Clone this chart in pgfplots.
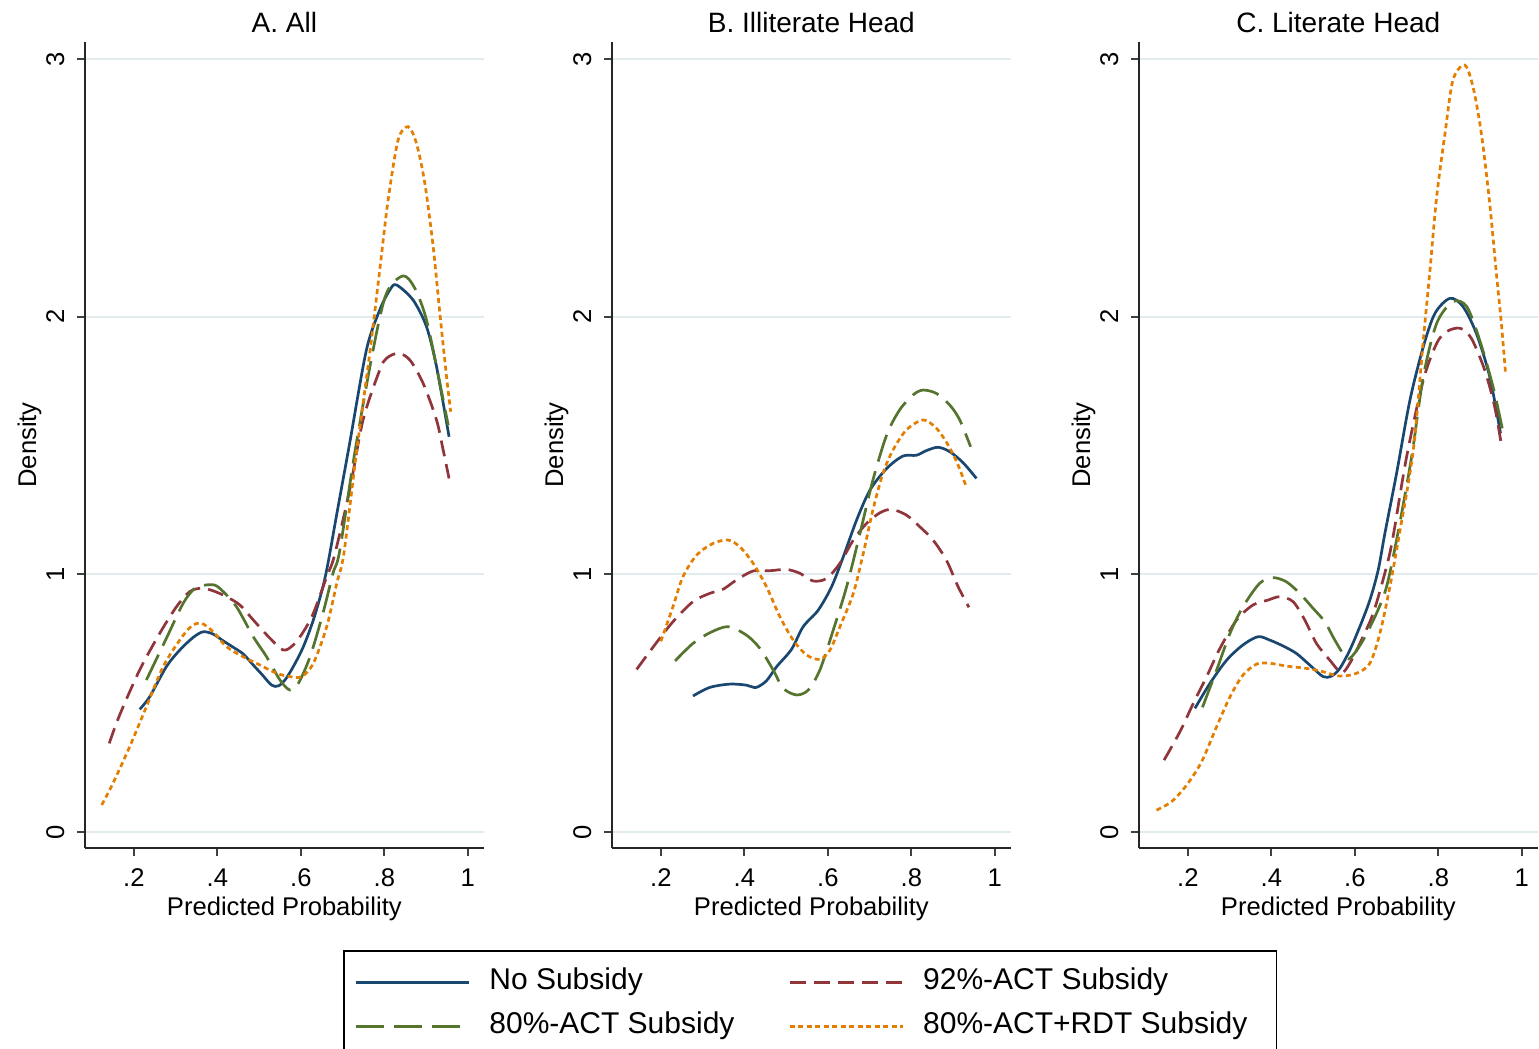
\documentclass[border=0pt]{standalone}
\usepackage{fontspec}
\setmainfont{Liberation Sans}
\usepackage{pgfplots}
\pgfplotsset{compat=1.18}

\definecolor{snavy}{RGB}{26,71,111}
\definecolor{smaroon}{RGB}{144,53,59}
\definecolor{sgreen}{RGB}{85,117,47}
\definecolor{sorange}{RGB}{227,126,0}
\definecolor{sgrid}{RGB}{226,236,239}

\pgfplotsset{
  panel/.style={
    scale only axis, width=199.35pt, height=403.05pt,
    xmin=0.083, xmax=1.038, ymin=-0.062, ymax=3.066,
    axis lines=left, axis line style={-, black!85, line width=0.9pt},
    tick align=outside, major tick length=4pt,
    tick style={black!75, line width=0.9pt},
    xtick={0.2,0.4,0.6,0.8,1}, xticklabels={.2,.4,.6,.8,1},
    ytick={0,1,2,3}, yticklabels={0,1,2,3},
    ymajorgrids, grid style={sgrid, line width=0.9pt},
    tick label style={font=\fontsize{12.8}{15}\selectfont},
    xticklabel style={anchor=base}, xticklabel shift=15pt,
    yticklabel style={rotate=90, anchor=base}, yticklabel shift=6.5pt,
    label style={font=\fontsize{12.8}{15}\selectfont},
    xlabel={Predicted Probability},
    xlabel style={at={(axis description cs:0.5,0)}, anchor=base, yshift=-33.5pt},
    ylabel={Density},
    ylabel style={at={(axis description cs:-0.1228,0.5)}, anchor=base},
    title style={font=\fontsize{14}{17}\selectfont, at={(axis description cs:0.5,1)}, anchor=base, yshift=-1.5pt},
  },
  noS/.style={snavy, solid, line width=1.35pt, smooth},
  s92/.style={smaroon, line width=1.35pt, dash pattern=on 8pt off 4pt, smooth},
  s80/.style={sgreen, line width=1.35pt, dash pattern=on 14pt off 5pt, smooth},
  sRDT/.style={sorange, line width=1.35pt, dash pattern=on 2.5pt off 1.75pt, smooth},
}

\begin{document}
\begin{tikzpicture}
% A. All
\begin{axis}[panel, at={(42.5pt,-424pt)}, anchor=south west, title={A. All},
  legend columns=2, legend cell align=left,
  legend image code/.code={\draw[#1] (0pt,0pt) -- (56.5pt,0pt);},
  legend style={at={(axis description cs:0.6466,-0.1266)}, anchor=north west,
    draw=black, line width=0.9pt, font=\fontsize{15}{18}\selectfont,
    inner sep=5.5pt, row sep=1.5pt,
    /tikz/every odd column/.append style={column sep=6.5pt},
    /tikz/every even column/.append style={column sep=24pt},
    nodes={inner sep=3pt, text height=11pt, text depth=3.5pt}}]
\addplot[noS] coordinates {
(0.214,0.476) (0.238,0.525) (0.278,0.642) (0.310,0.706) (0.342,0.755) (0.366,0.777)
(0.390,0.768) (0.414,0.742) (0.438,0.717) (0.462,0.691) (0.486,0.648) (0.506,0.613)
(0.530,0.570) (0.546,0.567) (0.562,0.590) (0.582,0.642) (0.606,0.719) (0.630,0.823)
(0.653,0.952) (0.667,1.060) (0.685,1.224) (0.717,1.509) (0.757,1.870) (0.789,2.026)
(0.813,2.103) (0.829,2.123) (0.869,2.064) (0.901,1.961) (0.925,1.806) (0.955,1.534)};
\addlegendentry{No Subsidy}
\addplot[s92] coordinates {
(0.141,0.344) (0.166,0.454) (0.214,0.629) (0.262,0.771) (0.302,0.874) (0.334,0.933)
(0.362,0.946) (0.390,0.936) (0.422,0.913) (0.454,0.881) (0.486,0.823) (0.526,0.752)
(0.558,0.706) (0.582,0.726) (0.606,0.777) (0.630,0.849) (0.662,0.991) (0.680,1.070)
(0.717,1.327) (0.749,1.599) (0.789,1.793) (0.805,1.838) (0.833,1.858) (0.861,1.832)
(0.893,1.741) (0.925,1.599) (0.941,1.482) (0.955,1.372)};
\addlegendentry{92\%-ACT Subsidy}
\addplot[s80] coordinates {
(0.230,0.590) (0.278,0.752) (0.318,0.887) (0.346,0.946) (0.370,0.958) (0.394,0.958)
(0.414,0.933) (0.446,0.874) (0.486,0.758) (0.518,0.680) (0.550,0.590) (0.574,0.551)
(0.594,0.577) (0.622,0.680) (0.653,0.849) (0.677,1.004) (0.693,1.090) (0.729,1.470)
(0.773,1.870) (0.805,2.090) (0.845,2.158) (0.873,2.110) (0.901,1.987) (0.933,1.741)
(0.953,1.579)};
\addlegendentry{80\%-ACT Subsidy}
\addplot[sRDT] coordinates {
(0.123,0.105) (0.150,0.189) (0.190,0.331) (0.230,0.486) (0.270,0.641) (0.310,0.745)
(0.338,0.799) (0.362,0.810) (0.390,0.777) (0.422,0.719) (0.462,0.680) (0.502,0.648)
(0.542,0.616) (0.574,0.603) (0.602,0.603) (0.630,0.655) (0.662,0.797) (0.686,0.965)
(0.703,1.080) (0.733,1.470) (0.765,1.857) (0.789,2.181) (0.809,2.452) (0.833,2.685)
(0.857,2.737) (0.877,2.672) (0.897,2.517) (0.917,2.271) (0.933,2.013) (0.949,1.767)
(0.959,1.631)};
\addlegendentry{80\%-ACT+RDT Subsidy\rule{6pt}{0pt}}
\end{axis}

% B. Illiterate Head
\begin{axis}[panel, at={(306pt,-424pt)}, anchor=south west, title={B. Illiterate Head}]
\addplot[noS] coordinates {
(0.277,0.528) (0.317,0.561) (0.365,0.574) (0.405,0.570) (0.428,0.561) (0.453,0.587)
(0.477,0.641) (0.513,0.709) (0.541,0.797) (0.577,0.861) (0.609,0.952) (0.637,1.068)
(0.669,1.211) (0.701,1.327) (0.741,1.411) (0.780,1.459) (0.812,1.462) (0.836,1.480)
(0.864,1.493) (0.892,1.476) (0.924,1.433) (0.956,1.372)};
\addplot[s92] coordinates {
(0.142,0.631) (0.182,0.719) (0.229,0.816) (0.277,0.894) (0.317,0.926) (0.349,0.942)
(0.381,0.978) (0.421,1.013) (0.461,1.014) (0.501,1.019) (0.533,1.004) (0.565,0.974)
(0.597,0.984) (0.629,1.043) (0.661,1.133) (0.693,1.198) (0.725,1.239) (0.753,1.252)
(0.788,1.230) (0.820,1.185) (0.852,1.133) (0.884,1.055) (0.912,0.952) (0.938,0.872)};
\addplot[s80] coordinates {
(0.234,0.664) (0.277,0.732) (0.317,0.773) (0.361,0.797) (0.405,0.764) (0.437,0.713)
(0.469,0.629) (0.493,0.558) (0.525,0.532) (0.553,0.551) (0.581,0.629) (0.613,0.784)
(0.645,0.952) (0.677,1.159) (0.708,1.366) (0.741,1.541) (0.772,1.638) (0.804,1.696)
(0.828,1.715) (0.860,1.702) (0.892,1.657) (0.916,1.599) (0.942,1.495)};
\addplot[sRDT] coordinates {
(0.200,0.740) (0.229,0.874) (0.253,0.991) (0.286,1.075) (0.325,1.120) (0.361,1.133)
(0.389,1.107) (0.421,1.043) (0.453,0.952) (0.485,0.836) (0.517,0.745) (0.549,0.687)
(0.581,0.670) (0.605,0.706) (0.629,0.797) (0.661,0.926) (0.685,1.082) (0.708,1.250)
(0.732,1.392) (0.756,1.482) (0.788,1.560) (0.828,1.599) (0.860,1.567) (0.888,1.502)
(0.912,1.424) (0.932,1.338)};
\end{axis}

% C. Literate Head
\begin{axis}[panel, at={(569.5pt,-424pt)}, anchor=south west, title={C. Literate Head}]
\addplot[noS] coordinates {
(0.217,0.480) (0.253,0.577) (0.293,0.667) (0.332,0.726) (0.368,0.758) (0.396,0.745)
(0.428,0.722) (0.460,0.693) (0.492,0.648) (0.524,0.603) (0.544,0.605) (0.564,0.635)
(0.588,0.706) (0.612,0.797) (0.636,0.900) (0.656,1.017) (0.672,1.159) (0.700,1.392)
(0.732,1.676) (0.764,1.883) (0.792,2.013) (0.828,2.071) (0.859,2.039) (0.891,1.935)
(0.923,1.767) (0.949,1.547)};
\addplot[s92] coordinates {
(0.143,0.279) (0.181,0.389) (0.213,0.499) (0.245,0.603) (0.277,0.713) (0.317,0.823)
(0.356,0.881) (0.392,0.900) (0.420,0.913) (0.452,0.894) (0.480,0.823) (0.508,0.732)
(0.540,0.667) (0.568,0.618) (0.588,0.655) (0.612,0.732) (0.644,0.849) (0.676,1.030)
(0.692,1.150) (0.724,1.456) (0.764,1.754) (0.796,1.896) (0.820,1.942) (0.852,1.955)
(0.879,1.916) (0.911,1.793) (0.935,1.650) (0.951,1.502)};
\addplot[s80] coordinates {
(0.235,0.484) (0.269,0.629) (0.301,0.771) (0.332,0.874) (0.372,0.965) (0.404,0.987)
(0.436,0.971) (0.468,0.926) (0.500,0.868) (0.528,0.816) (0.552,0.745) (0.580,0.674)
(0.596,0.687) (0.620,0.745) (0.652,0.849) (0.676,0.952) (0.702,1.150) (0.736,1.456)
(0.764,1.767) (0.796,1.974) (0.835,2.058) (0.868,2.039) (0.899,1.909) (0.931,1.728)
(0.954,1.560)};
\addplot[sRDT] coordinates {
(0.125,0.085) (0.161,0.118) (0.197,0.182) (0.233,0.273) (0.269,0.409) (0.301,0.525)
(0.332,0.609) (0.365,0.652) (0.396,0.655) (0.436,0.644) (0.484,0.635) (0.524,0.622)
(0.564,0.605) (0.604,0.616) (0.636,0.655) (0.660,0.771) (0.684,0.952) (0.706,1.150)
(0.740,1.482) (0.764,1.909) (0.780,2.181) (0.796,2.465) (0.816,2.711) (0.835,2.918)
(0.863,2.976) (0.883,2.892) (0.903,2.711) (0.923,2.440) (0.939,2.168) (0.951,1.974)
(0.961,1.780)};
\end{axis}
\pgfresetboundingbox
\useasboundingbox (0pt,0pt) rectangle (769.5pt,-524.5pt);
\end{tikzpicture}
\end{document}
